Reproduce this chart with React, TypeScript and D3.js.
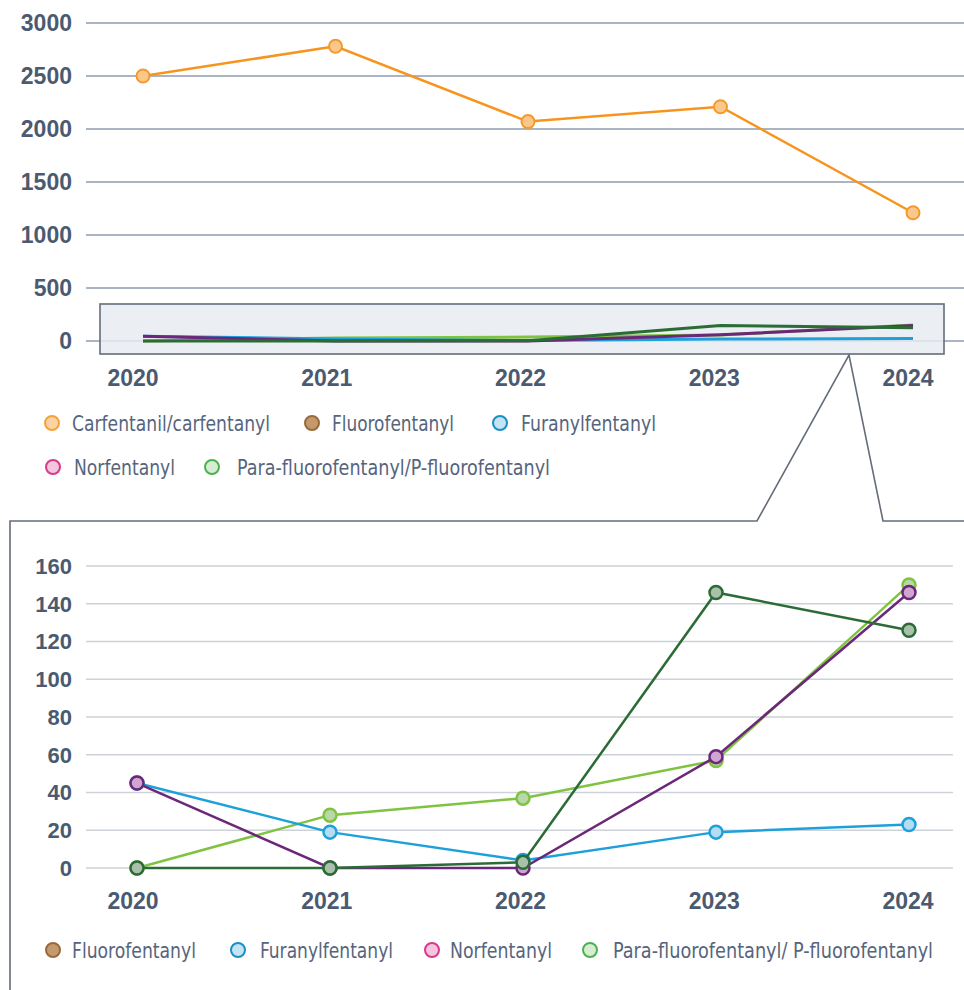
import React from 'react'
import * as d3 from 'd3'

const width = 964
const height = 990

const years = ['2020', '2021', '2022', '2023', '2024']
const carfentanil = [2500, 2780, 2070, 2210, 1210]
const fluorofentanyl = [0, 0, 3, 146, 126]
const furanylfentanyl = [45, 19, 4, 19, 23]
const norfentanyl = [45, 0, 0, 59, 146]
const paraFluoro = [0, 28, 37, 57, 150]

const topTicks = [0, 500, 1000, 1500, 2000, 2500, 3000]
const bottomTicks = [0, 20, 40, 60, 80, 100, 120, 140, 160]

const topLegend = [
  ['Carfentanil/carfentanyl', '#fdd3a4', '#f6a23c'],
  ['Fluorofentanyl', '#c49a6c', '#99693a'],
  ['Furanylfentanyl', '#c2e4f5', '#1c8ec6'],
  ['Norfentanyl', '#f3c6dd', '#d8388d'],
  ['Para-fluorofentanyl/P-fluorofentanyl', '#d6edd2', '#4db151'],
]
const bottomLegend = [
  ['Fluorofentanyl', '#c49a6c', '#99693a'],
  ['Furanylfentanyl', '#c2e4f5', '#1c8ec6'],
  ['Norfentanyl', '#f3c6dd', '#d8388d'],
  ['Para-fluorofentanyl/ P-fluorofentanyl', '#d6edd2', '#4db151'],
]

// drawing order: bottom to top
const smallSeries = [
  { values: paraFluoro, line: '#80c342', fill: '#bad7a9' },
  { values: furanylfentanyl, line: '#1ea1db', fill: '#b4ddf2' },
  { values: norfentanyl, line: '#6b2878', fill: '#cfa5d1' },
  { values: fluorofentanyl, line: '#2b6c36', fill: '#a9c1aa' },
]

const tickColor = '#4b5a70'
const legendColor = '#56657d'
const legendFont = '"Liberation Sans Narrow", "DejaVu Sans Condensed", "Liberation Sans", sans-serif'

const App = () => {
  const xTop = d3.scalePoint().domain(years).range([143, 913])
  const xBot = d3.scalePoint().domain(years).range([137, 909])
  const xLabel = d3.scalePoint().domain(years).range([133, 908])
  const yTop = d3.scaleLinear().domain([0, 3000]).range([341, 23])
  const yBot = d3.scaleLinear().domain([0, 160]).range([868, 566])

  const lineTop = d3.line<number>().x((d, i) => xTop(years[i])!).y(d => yTop(d))
  const lineBot = d3.line<number>().x((d, i) => xBot(years[i])!).y(d => yBot(d))

  // legend layout (x of marker, x of text, text width, y)
  const topLegendPos = [
    [52, 72, 198, 423],
    [312, 332, 122, 423],
    [500, 521, 135, 423],
    [53, 74, 101, 467],
    [212, 237, 313, 467],
  ]
  const bottomLegendPos = [
    [53, 72, 124, 950],
    [238, 260, 133, 950],
    [432, 450, 102, 950],
    [590, 613, 320, 950],
  ]

  return (
    <svg width={width} height={height} style={{ position: 'absolute', left: 0, top: 0, background: '#fff' }}
      fontFamily='"Liberation Sans", Arial, sans-serif'>
      {/* top chart */}
      {topTicks.map(t => (
        <g key={'tt' + t}>
          <line x1={86} x2={964} y1={yTop(t)} y2={yTop(t)} stroke='#aab4c3' strokeWidth={2} />
          <text x={72} y={yTop(t)} dy='0.36em' textAnchor='end' fontSize={23} fontWeight='bold' fill={tickColor}>{t}</text>
        </g>
      ))}
      <rect x={100} y={304} width={844} height={50} fill='#e8ebf0' fillOpacity={0.85} stroke='#646d7a' strokeWidth={1.6} />
      {smallSeries.map((s, i) => (
        <path key={'ts' + i} d={lineTop(s.values)!} fill='none' stroke={s.line} strokeWidth={3} />
      ))}
      <path d={lineTop(carfentanil)!} fill='none' stroke='#f7941d' strokeWidth={2.5} />
      {carfentanil.map((v, i) => (
        <circle key={'c' + i} cx={xTop(years[i])} cy={yTop(v)} r={6.5} fill='#fbc88c' stroke='#f39a2b' strokeWidth={2} />
      ))}
      {years.map(y => (
        <text key={'xt' + y} x={xLabel(y)} y={378} dy='0.36em' textAnchor='middle' fontSize={23} fontWeight='bold' fill={tickColor}>{y}</text>
      ))}
      {topLegend.map((l, i) => {
        const [cx, tx, tw, ly] = topLegendPos[i]
        return (
          <g key={'tl' + i}>
            <circle cx={cx} cy={ly} r={7} fill={l[1]} stroke={l[2]} strokeWidth={2} />
            <text x={tx} y={ly} dy='0.36em' fontSize={21} fontFamily={legendFont} fill={legendColor}
              textLength={tw} lengthAdjust='spacingAndGlyphs'>{l[0]}</text>
          </g>
        )
      })}

      {/* callout frame */}
      <polyline points='10,990 10,521 757,521 849,355 883,521 964,521' fill='none' stroke='#646d7a' strokeWidth={1.6} />

      {/* bottom chart */}
      {bottomTicks.map(t => (
        <g key={'bt' + t}>
          <line x1={86} x2={953} y1={yBot(t)} y2={yBot(t)} stroke='#cdd2d8' strokeWidth={1.5} />
          <text x={72} y={yBot(t)} dy='0.36em' textAnchor='end' fontSize={22} fontWeight='bold' fill={tickColor}>{t}</text>
        </g>
      ))}
      {smallSeries.map((s, i) => (
        <g key={'bs' + i}>
          <path d={lineBot(s.values)!} fill='none' stroke={s.line} strokeWidth={2.5} />
          {s.values.map((v, j) => (
            <circle key={j} cx={xBot(years[j])} cy={yBot(v)} r={6.5} fill={s.fill} stroke={s.line} strokeWidth={2.5} />
          ))}
        </g>
      ))}
      {years.map(y => (
        <text key={'xb' + y} x={xLabel(y)} y={901} dy='0.36em' textAnchor='middle' fontSize={23} fontWeight='bold' fill={tickColor}>{y}</text>
      ))}
      {bottomLegend.map((l, i) => {
        const [cx, tx, tw, ly] = bottomLegendPos[i]
        return (
          <g key={'bl' + i}>
            <circle cx={cx} cy={ly} r={7} fill={l[1]} stroke={l[2]} strokeWidth={2} />
            <text x={tx} y={ly} dy='0.36em' fontSize={21} fontFamily={legendFont} fill={legendColor}
              textLength={tw} lengthAdjust='spacingAndGlyphs'>{l[0]}</text>
          </g>
        )
      })}
    </svg>
  )
}

export default App
